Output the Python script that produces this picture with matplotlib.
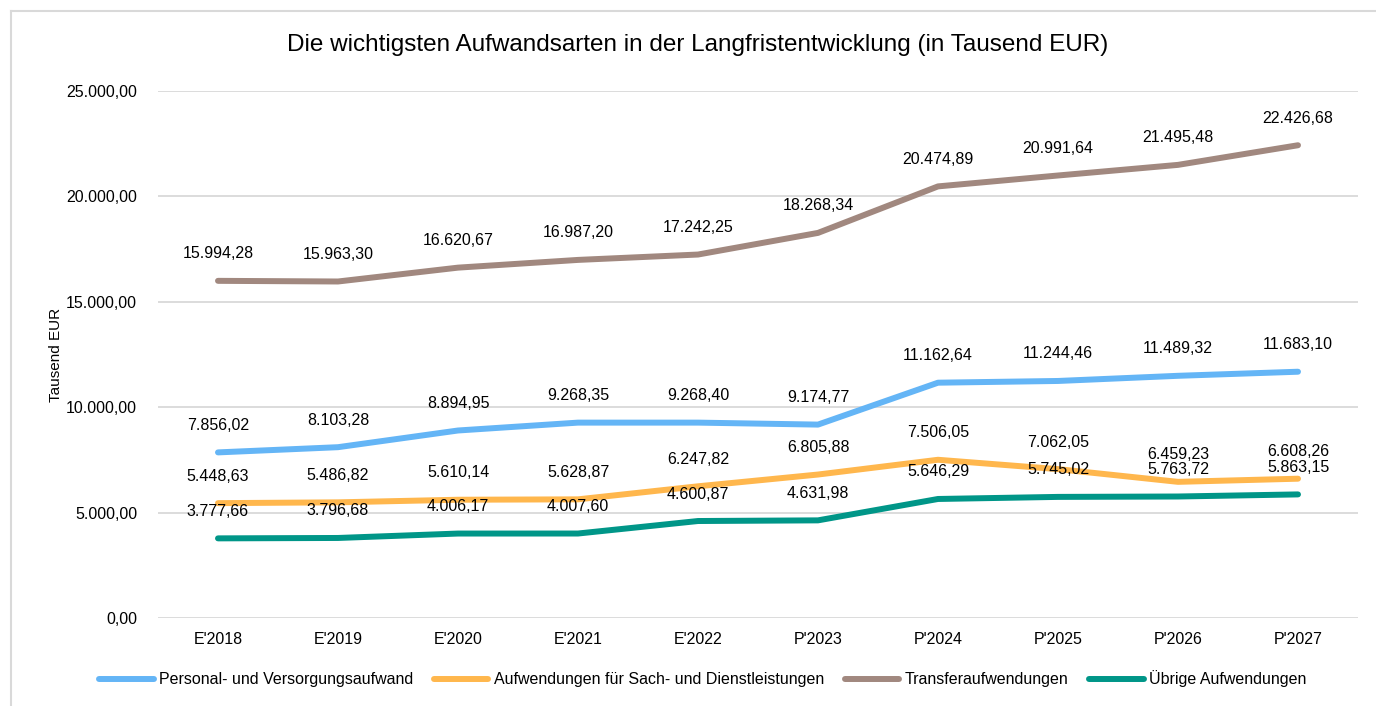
import matplotlib.pyplot as plt
from matplotlib.lines import Line2D
from matplotlib.ticker import FuncFormatter

plt.rcParams['font.family'] = ['Liberation Sans', 'DejaVu Sans']

# data
years = ["E'2018", "E'2019", "E'2020", "E'2021", "E'2022",
         "P'2023", "P'2024", "P'2025", "P'2026", "P'2027"]
personal = [7856.02, 8103.28, 8894.95, 9268.35, 9268.40,
            9174.77, 11162.64, 11244.46, 11489.32, 11683.10]
sach = [5448.63, 5486.82, 5610.14, 5628.87, 6247.82,
        6805.88, 7506.05, 7062.05, 6459.23, 6608.26]
transfer = [15994.28, 15963.30, 16620.67, 16987.20, 17242.25,
            18268.34, 20474.89, 20991.64, 21495.48, 22426.68]
uebrige = [3777.66, 3796.68, 4006.17, 4007.60, 4600.87,
           4631.98, 5646.29, 5745.02, 5763.72, 5863.15]

series = [
    ("Personal- und Versorgungsaufwand", personal, "#64B5F6"),
    ("Aufwendungen für Sach- und Dienstleistungen", sach, "#FFB74D"),
    ("Transferaufwendungen", transfer, "#A1887F"),
    ("Übrige Aufwendungen", uebrige, "#009688"),
]


def de_fmt(v):
    s = f"{v:,.2f}"
    return s.replace(",", "X").replace(".", ",").replace("X", ".")


fig = plt.figure(figsize=(13.76, 7.06), dpi=100)
ax = fig.add_axes([158 / 1376, 1 - 618 / 706, 1200 / 1376, 527 / 706])

# light frame around the chart area
fig.add_artist(Line2D([11 / 1376, 11 / 1376], [0, 1 - 11 / 706],
                      transform=fig.transFigure, color="#d9d9d9", lw=1.5))
fig.add_artist(Line2D([11 / 1376, 1], [1 - 11 / 706, 1 - 11 / 706],
                      transform=fig.transFigure, color="#d9d9d9", lw=1.5))

x = list(range(len(years)))
handles = []
for name, vals, col in series:
    ln, = ax.plot(x, vals, color=col, lw=4.3, solid_capstyle="round",
                  solid_joinstyle="round", label=name, zorder=3)
    handles.append(ln)
    for xi, v in zip(x, vals):
        ax.annotate(de_fmt(v), (xi, v), xytext=(0, 27), textcoords="offset pixels",
                    ha="center", va="center", fontsize=11.5, color="#000000", zorder=4)

ax.set_xlim(-0.5, len(years) - 0.5)
ax.set_ylim(0, 25000)
ax.set_yticks(range(0, 25001, 5000))
ax.yaxis.set_major_formatter(FuncFormatter(lambda v, p: de_fmt(v)))
ax.set_xticks(x)
ax.set_xticklabels(years)
ax.tick_params(axis="both", length=0, labelsize=11.5, colors="#000000")
ax.tick_params(axis="y", pad=15)
ax.tick_params(axis="x", pad=10)
ax.grid(axis="y", color="#d9d9d9", lw=1.3)
ax.set_axisbelow(True)
for sp in ax.spines.values():
    sp.set_visible(False)

ax.set_ylabel("Tausend EUR", fontsize=11, labelpad=2)

fig.text(698 / 1376, 1 - 45 / 706,
         "Die wichtigsten Aufwandsarten in der Langfristentwicklung (in Tausend EUR)",
         ha="center", va="center", fontsize=17.5)

leg = fig.legend(handles=handles, loc="center", bbox_to_anchor=(703 / 1376, 1 - 679 / 706),
                 ncol=4, frameon=False, fontsize=11.5, handlelength=3.4,
                 handletextpad=0.35, columnspacing=1.3)

fig.savefig("out.png", dpi=100, facecolor="white")
